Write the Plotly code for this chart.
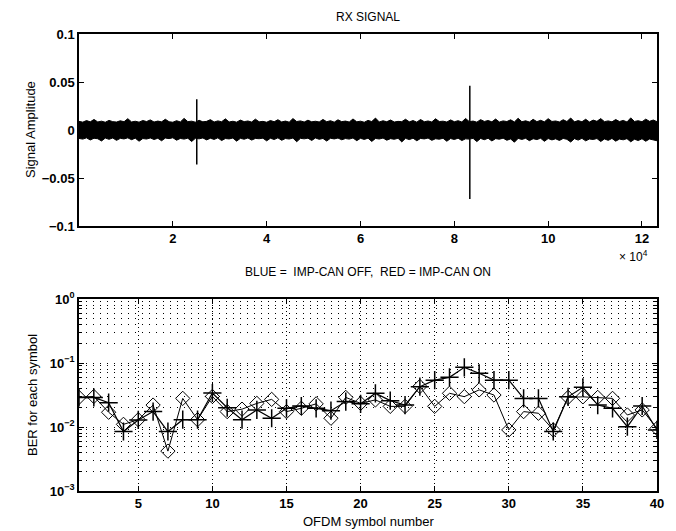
import plotly.graph_objects as go

# ---------------- data ----------------
# RX signal: noise envelope (upper / lower), one value every 800 samples
env_x = list(range(0, 123201, 800))
env_upper = [0.0090, 0.0082, 0.0098, 0.0085, 0.0110, 0.0084, 0.0092, 0.0081, 0.0100, 0.0087,
             0.0083, 0.0096, 0.0086, 0.0118, 0.0084, 0.0091, 0.0082, 0.0099, 0.0088, 0.0105,
             0.0083, 0.0093, 0.0085, 0.0112, 0.0086, 0.0081, 0.0097, 0.0084, 0.0121, 0.0087,
             0.0092, 0.0082, 0.0101, 0.0085, 0.0090, 0.0108, 0.0083, 0.0095, 0.0086, 0.0116,
             0.0084, 0.0091, 0.0082, 0.0103, 0.0087, 0.0094, 0.0083, 0.0113, 0.0085, 0.0090,
             0.0081, 0.0099, 0.0086, 0.0107, 0.0084, 0.0093, 0.0082, 0.0119, 0.0088, 0.0095,
             0.0083, 0.0102, 0.0085, 0.0091, 0.0084, 0.0110, 0.0086, 0.0097, 0.0082, 0.0106,
             0.0087, 0.0093, 0.0083, 0.0115, 0.0085, 0.0092, 0.0081, 0.0100, 0.0088, 0.0124,
             0.0084, 0.0096, 0.0086, 0.0104, 0.0083, 0.0090, 0.0087, 0.0112, 0.0085, 0.0098,
             0.0082, 0.0109, 0.0086, 0.0094, 0.0084, 0.0117, 0.0088, 0.0092, 0.0083, 0.0105,
             0.0086, 0.0097, 0.0084, 0.0120, 0.0087, 0.0093, 0.0082, 0.0108, 0.0089, 0.0099,
             0.0085, 0.0114, 0.0083, 0.0095, 0.0088, 0.0106, 0.0084, 0.0122, 0.0086, 0.0096,
             0.0083, 0.0111, 0.0087, 0.0101, 0.0085, 0.0118, 0.0089, 0.0094, 0.0084, 0.0107,
             0.0088, 0.0125, 0.0085, 0.0098, 0.0086, 0.0112, 0.0083, 0.0103, 0.0090, 0.0119,
             0.0087, 0.0095, 0.0085, 0.0109, 0.0088, 0.0100, 0.0084, 0.0126, 0.0089, 0.0097,
             0.0086, 0.0113, 0.0090, 0.0104, 0.0087]
env_lower = [-0.0088, -0.0095, -0.0082, -0.0104, -0.0086, -0.0091, -0.0114, -0.0084, -0.0097, -0.0083,
             -0.0108, -0.0087, -0.0093, -0.0082, -0.0101, -0.0085, -0.0117, -0.0089, -0.0094, -0.0083,
             -0.0099, -0.0086, -0.0112, -0.0084, -0.0090, -0.0081, -0.0106, -0.0088, -0.0095, -0.0085,
             -0.0120, -0.0087, -0.0092, -0.0083, -0.0103, -0.0086, -0.0098, -0.0082, -0.0110, -0.0089,
             -0.0093, -0.0084, -0.0116, -0.0087, -0.0096, -0.0083, -0.0105, -0.0088, -0.0091, -0.0085,
             -0.0113, -0.0086, -0.0099, -0.0082, -0.0107, -0.0089, -0.0094, -0.0084, -0.0122, -0.0087,
             -0.0092, -0.0085, -0.0109, -0.0083, -0.0097, -0.0088, -0.0115, -0.0086, -0.0093, -0.0084,
             -0.0102, -0.0089, -0.0095, -0.0083, -0.0111, -0.0087, -0.0098, -0.0085, -0.0119, -0.0088,
             -0.0094, -0.0084, -0.0106, -0.0090, -0.0097, -0.0086, -0.0124, -0.0087, -0.0100, -0.0085,
             -0.0112, -0.0088, -0.0093, -0.0084, -0.0108, -0.0091, -0.0096, -0.0086, -0.0117, -0.0089,
             -0.0099, -0.0085, -0.0110, -0.0092, -0.0095, -0.0087, -0.0121, -0.0088, -0.0101, -0.0086,
             -0.0114, -0.0090, -0.0096, -0.0085, -0.0107, -0.0093, -0.0127, -0.0088, -0.0098, -0.0087,
             -0.0111, -0.0091, -0.0100, -0.0086, -0.0118, -0.0089, -0.0103, -0.0092, -0.0109, -0.0088,
             -0.0097, -0.0125, -0.0090, -0.0105, -0.0087, -0.0113, -0.0094, -0.0099, -0.0089, -0.0120,
             -0.0093, -0.0108, -0.0088, -0.0116, -0.0095, -0.0102, -0.0090, -0.0123, -0.0096, -0.0110,
             -0.0091, -0.0117, -0.0094, -0.0106, -0.0112]
# impulsive spikes
spike_x = [25100, 83300]
spike_top = [0.032, 0.046]
spike_bot = [-0.036, -0.072]
top_tickvals = [20000, 40000, 60000, 80000, 100000, 120000]
top_ticktext = ["2", "4", "6", "8", "10", "12"]
top_yticks = [-0.1, -0.05, 0, 0.05, 0.1]
top_yticktext = ["\u22120.1", "\u22120.05", "0", "0.05", "0.1"]

# BER per OFDM symbol
symbols = list(range(1, 41))
ber_off = [0.029, 0.030, 0.017, 0.011, 0.013, 0.022, 0.0042, 0.028, 0.013, 0.030,
           0.0174, 0.019, 0.0234, 0.027, 0.0174, 0.0196, 0.023, 0.0137, 0.029, 0.0234,
           0.0265, 0.021, 0.021, 0.043, 0.021, 0.0336, 0.0298, 0.038, 0.0316, 0.009,
           0.0174, 0.0164, 0.009, 0.029, 0.0296, 0.029, 0.028, 0.0154, 0.0185, 0.0095]
ber_on = [0.029, 0.029, 0.024, 0.0085, 0.0129, 0.0174, 0.0085, 0.013, 0.013, 0.034,
          0.020, 0.013, 0.0185, 0.0137, 0.0196, 0.0213, 0.0196, 0.018, 0.025, 0.023,
          0.0336, 0.0258, 0.022, 0.0427, 0.054, 0.0597, 0.0855, 0.069, 0.054, 0.054,
          0.028, 0.028, 0.0085, 0.0296, 0.0417, 0.022, 0.0196, 0.0101, 0.0213, 0.009]
bot_xticks = [5, 10, 15, 20, 25, 30, 35, 40]
bot_yticks = [1e-3, 1e-2, 1e-1, 1e0]
bot_yticktext = ["10<sup>\u22123</sup>", "10<sup>\u22122</sup>", "10<sup>\u22121</sup>", "10<sup>0</sup>"]
bot_minor = [m * d for d in (1e-3, 1e-2, 1e-1) for m in range(2, 10)]

# ---------------- figure ----------------
OFF = 8                       # page body margin of the html page
W, H = 676 - OFF, 531 - OFF
FONT = "Liberation Sans Narrow, Liberation Sans, Arial, sans-serif"
TICKFONT = dict(family=FONT, size=13, color="black", weight="bold")


def px(x):
    return (x - OFF) / W


def py(y):
    return 1 - (y - OFF) / H


fig = go.Figure()

# noise band
fig.add_trace(go.Scatter(x=env_x, y=env_upper, mode="lines",
                         line=dict(color="black", width=1), xaxis="x", yaxis="y",
                         showlegend=False, hoverinfo="skip"))
fig.add_trace(go.Scatter(x=env_x, y=env_lower, mode="lines", fill="tonexty",
                         fillcolor="black", line=dict(color="black", width=1),
                         xaxis="x", yaxis="y", showlegend=False, hoverinfo="skip"))
# spikes
sx, sy = [], []
for x, t, b in zip(spike_x, spike_top, spike_bot):
    sx += [x, x, None]
    sy += [b, t, None]
fig.add_trace(go.Scatter(x=sx, y=sy, mode="lines", line=dict(color="black", width=1.5),
                         xaxis="x", yaxis="y", showlegend=False))

# BER traces
fig.add_trace(go.Scatter(x=symbols, y=ber_off, mode="lines+markers",
                         line=dict(color="black", width=1),
                         marker=dict(symbol="diamond-open", size=11, color="black",
                                     line=dict(width=1, color="black")),
                         xaxis="x2", yaxis="y2", showlegend=False))
fig.add_trace(go.Scatter(x=symbols, y=ber_on, mode="lines+markers",
                         line=dict(color="black", width=1.2),
                         marker=dict(symbol="cross-thin-open", size=13, color="black",
                                     line=dict(width=1.5, color="black")),
                         xaxis="x2", yaxis="y2", showlegend=False))

xdom = [px(79), px(657)]
ytop = [py(226), py(34)]
ybot = [py(491), py(299)]
xmid = (xdom[0] + xdom[1]) / 2

axis_common = dict(showline=True, linecolor="black", linewidth=1.5, mirror="ticks",
                   ticks="inside", ticklen=5, tickcolor="black", tickwidth=1,
                   tickfont=TICKFONT, zeroline=False, automargin=False)


def note(text, x, y, size=12, angle=0, xanchor="center"):
    return dict(text=text, x=x, y=y, xref="paper", yref="paper", showarrow=False,
                xanchor=xanchor, yanchor="middle", textangle=angle,
                font=dict(size=size, family=FONT, color="black"))


fig.update_layout(
    width=W, height=H,
    margin=dict(l=0, r=0, t=0, b=0),
    paper_bgcolor="white", plot_bgcolor="white",
    font=dict(family=FONT, color="black"),
    xaxis=dict(domain=xdom, anchor="y", range=[0, 123200], tickmode="array",
               tickvals=top_tickvals, ticktext=top_ticktext, showgrid=False, **axis_common),
    yaxis=dict(domain=ytop, anchor="x", range=[-0.1, 0.1], tickmode="array",
               tickvals=top_yticks, ticktext=top_yticktext, showgrid=False, **axis_common),
    xaxis2=dict(domain=xdom, anchor="y2", range=[1, 40], tickmode="array",
                tickvals=bot_xticks, showgrid=True, gridcolor="black", gridwidth=1,
                griddash="1px,3px", **axis_common),
    yaxis2=dict(domain=ybot, anchor="x2", type="log", range=[-3, 0], tickmode="array",
                tickvals=bot_yticks, ticktext=bot_yticktext, showgrid=True,
                gridcolor="black", gridwidth=1, griddash="1px,6px",
                minor=dict(tickmode="array", tickvals=bot_minor, showgrid=True,
                           gridcolor="black", gridwidth=1, griddash="1px,6px",
                           ticks="inside", ticklen=3, tickcolor="black"),
                **axis_common),
    annotations=[
        note("RX SIGNAL", xmid, py(17)),
        note("Signal Amplitude", px(30), py(130), size=13, angle=-90),
        note("\u00d7 10<sup>4</sup>", px(650), py(256), xanchor="right"),
        note("BLUE =  IMP-CAN OFF,  RED = IMP-CAN ON", xmid, py(272)),
        note("BER for each symbol", px(32), py(395), size=13, angle=-90),
        note("OFDM symbol number", xmid, py(521), size=13),
    ],
)

fig.write_html("out.html")
